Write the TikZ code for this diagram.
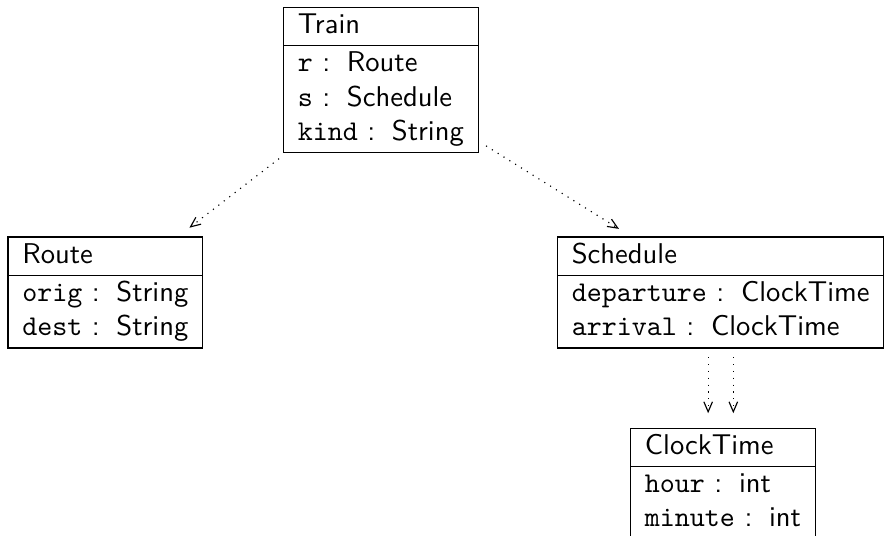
\documentclass[tikz,border=0pt]{standalone}
\usepackage{tikz}
\usetikzlibrary{arrows.meta,shapes.multipart}

\begin{document}
\begin{tikzpicture}[every node/.style={font=\sffamily}]
  \useasboundingbox (0,0) rectangle (10.864,6.587);
  % class box helper
  \tikzset{cls/.style={draw, rectangle split, rectangle split parts=2,
      rectangle split part align={left}, inner xsep=5pt, inner ysep=0.5pt, anchor=north west},
    assoc/.style={-{Straight Barb[length=3.5pt,width=3pt]}, dotted, shorten <=3pt, shorten >=5pt}}
  \newcommand{\attr}[2]{\texttt{#1} :\hspace{5.8pt}#2}
  \newcommand{\attrs}[1]{\begin{tabular}{@{}l@{}}#1\end{tabular}}
  % classes
  \node[cls] (train) at (3.478,6.501) {\strut Train
    \nodepart{two} \attrs{\attr{r}{Route}\\ \attr{s}{Schedule}\\ \attr{kind}{String}}};
  \node[cls] (route) at (0.092,3.681) {\strut Route
    \nodepart{two} \attrs{\attr{orig}{String}\\ \attr{dest}{String}}};
  \node[cls] (schedule) at (6.845,3.681) {\strut Schedule
    \nodepart{two} \attrs{\attr{departure}{ClockTime}\hspace{8pt}\\ \attr{arrival}{ClockTime}}};
  \node[cls] (clocktime) at (7.743,1.333) {\strut ClockTime
    \nodepart{two} \attrs{\attr{hour}{int}\\ \attr{minute}{int}}};
  % associations
  \draw[assoc] (train) -- (route);
  \draw[assoc] (train) -- (schedule);
  \draw[assoc] ([xshift=-4.4pt]schedule.south) -- ([xshift=-4.4pt]schedule.south |- clocktime.north);
  \draw[assoc] ([xshift=4.4pt]schedule.south) -- ([xshift=4.4pt]schedule.south |- clocktime.north);
\end{tikzpicture}
\end{document}
